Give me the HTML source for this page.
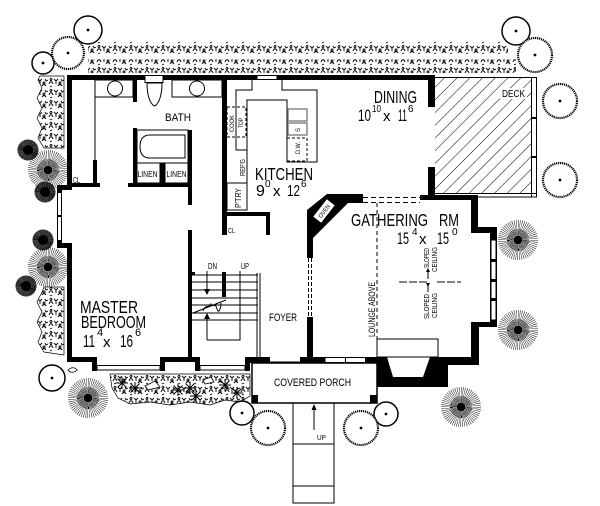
<!DOCTYPE html>
<html><head><meta charset="utf-8"><style>
html,body{margin:0;padding:0;background:#fff;}
svg{display:block;}
text{font-family:"Liberation Sans",sans-serif;fill:#000;}
</style></head><body>
<svg width="600" height="506" viewBox="0 0 600 506" xmlns="http://www.w3.org/2000/svg">
<defs>
<pattern id="hatch" width="9" height="9" patternUnits="userSpaceOnUse" patternTransform="rotate(45)"><line x1="0" y1="0" x2="0" y2="9" stroke="#000" stroke-width="1"/></pattern>
<pattern id="shrub" width="16" height="11" patternUnits="userSpaceOnUse">
<g fill="none" stroke="#000" stroke-width="0.9">
<path d="M1 7c1-3 3-3 4 0M6 2l2 2 2-2M8 4v3M10 9c1-2 3-2 4 0M13 2l1 2 2-1M2 10l2-1"/>
<circle cx="3" cy="2.5" r="1"/><circle cx="12" cy="6" r="1"/>
</g>
</pattern>
<g id="burst"><circle r="11.5" fill="none" stroke="#000" stroke-width="17" pathLength="112" stroke-dasharray="0.5 1.5"/><circle r="8" fill="none" stroke="#000" stroke-width="6" pathLength="112" stroke-dasharray="0.9 1.1"/><circle r="4.5" fill="#000"/></g>
<g id="dark"><circle r="6" fill="none" stroke="#000" stroke-width="9" pathLength="120" stroke-dasharray="0.8 0.2"/><circle r="5" fill="#000"/></g>
<path id="star" d="M-6 0H6M0-6V6M-4.5-4.5L4.5 4.5M-4.5 4.5L4.5-4.5" stroke="#000" stroke-width="1" fill="none"/>
<clipPath id="deckclip"><rect x="435" y="77" width="96" height="116"/></clipPath>
</defs>

<!-- hedges -->
<rect x="88" y="42" width="420" height="12" fill="url(#shrub)"/>
<rect x="88" y="59" width="428" height="14" fill="url(#shrub)"/>
<path d="M40 76L64 76L64 148L44 148L38 138L42 128L37 118L42 108L37 98L42 88L38 80Z" fill="url(#shrub)" stroke="#000" stroke-width="0.7"/>
<path d="M44 287L64 287L64 355L44 352L38 342L42 332L37 322L42 312L37 302L42 292Z" fill="url(#shrub)" stroke="#000" stroke-width="0.7"/>
<path d="M110 374L250 374L250 396L240 402L225 400L210 405L190 402L170 405L150 402L130 404L118 398L112 388Z" fill="url(#shrub)" stroke="#000" stroke-width="0.7"/>
<g fill="#fff">
<use href="#star" x="122" y="383"/><use href="#star" x="135" y="388"/><use href="#star" x="178" y="390"/><use href="#star" x="190" y="388"/><use href="#star" x="196" y="396"/><use href="#star" x="225" y="385"/><use href="#star" x="237" y="393"/>
</g>
<path d="M145 386l10-5 5 6-12 3zM203 380l8-3 3 5-9 2zM68 370c3-3 7-3 9 0c-3 3-7 3-9 0z" fill="#fff" stroke="#000" stroke-width="0.8"/>

<!-- trees -->
<g fill="none" stroke="#000" stroke-width="1.5">
<circle cx="88" cy="30" r="14"/><circle cx="43" cy="63" r="11"/><circle cx="516" cy="31" r="14"/>
<circle cx="52" cy="378" r="13"/><circle cx="242" cy="413" r="12"/><circle cx="386" cy="414" r="12"/>
</g>
<g fill="#fff" stroke="#000" stroke-width="2.2" stroke-dasharray="1.2 0.8">
<circle cx="68" cy="53" r="16"/><circle cx="535" cy="55" r="17"/><circle cx="560" cy="101" r="17"/>
<circle cx="560" cy="180" r="17"/><circle cx="268" cy="428" r="17"/><circle cx="361" cy="428" r="17"/>
</g>
<g fill="#000">
<circle cx="88" cy="30" r="1.4"/><circle cx="43" cy="63" r="1.4"/><circle cx="516" cy="31" r="1.4"/>
<circle cx="52" cy="378" r="1.4"/><circle cx="242" cy="413" r="1.4"/><circle cx="386" cy="414" r="1.4"/>
<circle cx="68" cy="53" r="1.4"/><circle cx="535" cy="55" r="1.4"/><circle cx="560" cy="101" r="1.4"/>
<circle cx="560" cy="180" r="1.4"/><circle cx="268" cy="428" r="1.4"/><circle cx="361" cy="428" r="1.4"/>
</g>
<use href="#burst" x="48" y="170"/><use href="#burst" x="48" y="267"/><use href="#burst" x="88" y="398"/>
<use href="#burst" x="461" y="407"/><use href="#burst" x="518" y="240"/><use href="#burst" x="518" y="330"/>
<use href="#dark" x="28" y="150"/><use href="#dark" x="45" y="192"/><use href="#dark" x="43" y="240"/><use href="#dark" x="26" y="286"/>

<!-- deck -->
<rect x="435" y="77" width="96" height="116" fill="url(#hatch)" clip-path="url(#deckclip)"/>
<g stroke="#000" stroke-width="1" fill="none">
<line x1="435" y1="77.5" x2="537" y2="77.5"/>
<line x1="531.5" y1="77" x2="531.5" y2="197"/><line x1="536.5" y1="77" x2="536.5" y2="197"/>
<line x1="435" y1="193.5" x2="537" y2="193.5"/><line x1="435" y1="197" x2="537" y2="197"/>
</g>
<rect x="531" y="117" width="6" height="2" fill="#000"/><rect x="531" y="156" width="6" height="2" fill="#000"/>
<rect x="500" y="88" width="27" height="11" fill="#fff"/>

<!-- walls -->
<g fill="#000">
<rect x="67" y="75" width="368" height="5"/>
<rect x="67" y="75" width="5" height="113"/>
<rect x="57" y="185" width="15" height="5"/>
<rect x="57" y="185" width="5" height="8"/><rect x="57" y="240" width="5" height="8"/>
<rect x="57" y="243" width="15" height="5"/>
<rect x="67" y="243" width="5" height="119"/>
<rect x="67" y="357" width="30" height="5"/><rect x="92" y="357" width="5" height="14"/>
<rect x="160" y="357" width="5" height="14"/><rect x="160" y="357" width="40" height="5"/>
<rect x="195" y="357" width="5" height="14"/><rect x="245" y="357" width="5" height="14"/>
<rect x="245" y="357" width="25" height="6"/>
<rect x="300" y="357" width="25" height="6"/><rect x="365" y="357" width="12" height="6"/>
<path d="M377 357H479V365H448V387H377Z"/>
<rect x="471" y="322" width="8" height="43"/><rect x="471" y="322" width="26" height="5"/>
<rect x="490" y="227" width="7" height="100"/>
<rect x="471" y="195" width="7" height="37"/><rect x="471" y="227" width="26" height="6"/>
<rect x="420" y="195" width="58" height="5"/>
<path d="M307 210L327 194H363V203H348L313 238V258H307Z"/>
<rect x="307" y="317" width="6" height="45"/>
<rect x="428" y="75" width="7" height="32"/><rect x="428" y="167" width="7" height="33"/>
<rect x="222" y="75" width="5" height="160"/>
<rect x="222" y="212" width="48" height="4"/><rect x="266" y="212" width="4" height="23"/>
<rect x="133" y="80" width="4" height="22"/>
<rect x="133" y="128" width="4" height="59"/><rect x="188" y="130" width="4" height="57"/>
<rect x="160" y="163" width="5" height="22"/>
<rect x="128" y="183" width="64" height="4"/>
<rect x="188" y="183" width="4" height="22"/><rect x="188" y="230" width="4" height="130"/>
<rect x="93" y="160" width="4" height="27"/><rect x="71" y="183" width="29" height="4"/>
<rect x="222" y="272" width="4" height="25"/><rect x="192" y="272" width="3" height="3"/>
</g>
<!-- fireplace cutout -->
<path d="M387 357H430L423 377H393Z" fill="#fff"/>
<!-- windows -->
<g fill="#fff" stroke="#000" stroke-width="1">
<rect x="57.5" y="192.5" width="4" height="48"/>
<rect x="97" y="365.5" width="63" height="4.5"/>
<rect x="200" y="365.5" width="45" height="4.5"/>
<rect x="325" y="357.5" width="20.5" height="5"/><rect x="345.5" y="357.5" width="20" height="5"/>
<rect x="491" y="240" width="5" height="80"/>
<rect x="257" y="75.5" width="20" height="4"/>
</g>
<g fill="#000"><rect x="490" y="259" width="7" height="3"/><rect x="490" y="279" width="7" height="3"/><rect x="490" y="298" width="7" height="3"/><rect x="57" y="215" width="5" height="2"/></g>

<g stroke="#000" stroke-width="1" fill="none">
<!-- gathering dashed openings -->
<line x1="363" y1="197.5" x2="420" y2="197.5" stroke-dasharray="5 3"/>
<line x1="363" y1="202.5" x2="420" y2="202.5" stroke-dasharray="5 3"/>
<line x1="308.5" y1="258" x2="308.5" y2="317" stroke-dasharray="4 2"/>
<line x1="311.5" y1="258" x2="311.5" y2="317" stroke-dasharray="4 2"/>
<line x1="377" y1="203" x2="377" y2="339" stroke-dasharray="4 3"/>
<rect x="377" y="339" width="61" height="18"/>
<line x1="399" y1="282" x2="427" y2="282" stroke-dasharray="8 2"/>
<line x1="437" y1="282" x2="461" y2="282" stroke-dasharray="8 2"/>
<line x1="428" y1="270" x2="428" y2="279"/><line x1="428" y1="285" x2="428" y2="292"/>
<!-- door line -->
<line x1="270" y1="362" x2="300" y2="362"/>
<!-- bath -->
<line x1="95" y1="80" x2="95" y2="160"/>
<rect x="95" y="80" width="38" height="17"/>
<circle cx="115" cy="88.5" r="7.5"/>
<rect x="172" y="80" width="50" height="17"/>
<circle cx="197" cy="88.5" r="7.5"/>
<rect x="137" y="130" width="51" height="33"/>
<path d="M150 135H185V158H150Q140 158 140 146.5Q140 135 150 135Z"/>
<rect x="137" y="163" width="23" height="20"/><rect x="165" y="163" width="23" height="20"/>
<!-- kitchen -->
<path d="M236 150V90H252V80"/>
<path d="M282 80V90H317V162H287V100H247V150"/>
<rect x="227" y="107" width="19" height="30" stroke-dasharray="3 2"/>
<path d="M236 150H247V183H236"/><line x1="247" y1="150" x2="247" y2="183" stroke-dasharray="3 2"/>
<rect x="227" y="183" width="20" height="27"/>
<rect x="287" y="138" width="20" height="23" stroke-dasharray="3 2"/>
<!-- stairs -->
<path d="M192 275H258M192 282H258M192 290H258M192 298H258M192 305H258M192 313H258M192 320H258"/>
<line x1="257" y1="273" x2="257" y2="357"/><line x1="260" y1="273" x2="260" y2="357"/>
<line x1="207" y1="271" x2="207" y2="290"/>
<path d="M207 340V318M207 340H240V271"/>
<!-- porch and steps -->
<rect x="252" y="363" width="125" height="40" stroke-width="1.5"/>
<rect x="293" y="403" width="41" height="100"/>
<line x1="293" y1="444" x2="334" y2="444"/><line x1="293" y1="486" x2="334" y2="486"/>
<line x1="314" y1="430" x2="314" y2="409"/>
</g>
<!-- stair break -->
<path d="M193 313L226 300" stroke="#000" stroke-width="1" fill="#fff"/>
<path d="M203 311c3-8 6-2 8-7c2 4 4-2 6 5c2 6 4-2 4-6" stroke="#000" stroke-width="1" fill="none"/>
<path d="M204 289L207 295L210 289ZM204 319L207 313L210 319ZM311.5 410L314 404L316.5 410ZM426 272L428 268L430 272ZM426 283L428 287L430 283Z" fill="#000"/>
<!-- sink -->
<g fill="none" stroke="#777" stroke-width="1.3"><rect x="288" y="109" width="19" height="12"/><rect x="288" y="123" width="19" height="12"/></g>
<!-- toilet -->
<rect x="145" y="75.5" width="18" height="7" fill="#fff" stroke="#000" stroke-width="1"/>
<path d="M147 83C147 95 150 104 154.5 106C159 104 162 95 162 83Z" fill="#fff" stroke="#000" stroke-width="1"/>
<path d="M252 395h6v8h-6zM370 395h7v8h-7z" fill="#000"/>
<!-- oven -->
<g transform="translate(324,211) rotate(-52)"><rect x="-11" y="-5" width="22" height="10" fill="#fff"/><text x="0" y="2.3" font-size="6" text-anchor="middle" textLength="15" lengthAdjust="spacingAndGlyphs">OVEN</text></g>

<!-- labels -->
<g>
<text x="80" y="313" font-size="17.5" textLength="58" lengthAdjust="spacingAndGlyphs">MASTER</text>
<text x="81" y="328" font-size="17.5" textLength="65" lengthAdjust="spacingAndGlyphs">BEDROOM</text>
<text x="83" y="347" font-size="17.5" textLength="12" lengthAdjust="spacingAndGlyphs">11</text>
<text x="97" y="336" font-size="11">4</text>
<text x="103" y="347" font-size="15">x</text>
<text x="120" y="347" font-size="17.5" textLength="13" lengthAdjust="spacingAndGlyphs">16</text>
<text x="135" y="336" font-size="11">6</text>

<text x="255" y="180" font-size="17.5" textLength="58" lengthAdjust="spacingAndGlyphs">KITCHEN</text>
<text x="256" y="196" font-size="16">9</text>
<text x="265" y="187" font-size="10">0</text>
<text x="273" y="196" font-size="15">x</text>
<text x="287" y="196" font-size="16" textLength="13" lengthAdjust="spacingAndGlyphs">12</text>
<text x="301" y="187" font-size="10">6</text>

<text x="374" y="103" font-size="17.5" textLength="43" lengthAdjust="spacingAndGlyphs">DINING</text>
<text x="358" y="121" font-size="17" textLength="13" lengthAdjust="spacingAndGlyphs">10</text>
<text x="372" y="112" font-size="10" textLength="9" lengthAdjust="spacingAndGlyphs">10</text>
<text x="383" y="121" font-size="15">x</text>
<text x="398" y="121" font-size="17" textLength="9" lengthAdjust="spacingAndGlyphs">11</text>
<text x="408" y="112" font-size="10">6</text>

<text x="351" y="226" font-size="17.5" textLength="77" lengthAdjust="spacingAndGlyphs">GATHERING</text>
<text x="439" y="226" font-size="17.5" textLength="20" lengthAdjust="spacingAndGlyphs">RM</text>
<text x="397" y="244" font-size="17" textLength="12" lengthAdjust="spacingAndGlyphs">15</text>
<text x="412" y="235" font-size="10">4</text>
<text x="419" y="244" font-size="15">x</text>
<text x="437" y="244" font-size="17" textLength="12" lengthAdjust="spacingAndGlyphs">15</text>
<text x="452" y="235" font-size="10">0</text>

<text x="165" y="121" font-size="11" textLength="26" lengthAdjust="spacingAndGlyphs">BATH</text>
<text x="137.5" y="177" font-size="8" textLength="20" lengthAdjust="spacingAndGlyphs">LINEN</text>
<text x="166.5" y="177" font-size="8" textLength="20" lengthAdjust="spacingAndGlyphs">LINEN</text>
<text x="73" y="183" font-size="8" textLength="7" lengthAdjust="spacingAndGlyphs">CL</text>
<text x="228" y="233" font-size="7.5" textLength="7" lengthAdjust="spacingAndGlyphs">CL</text>
<text x="502" y="97" font-size="10.5" textLength="23" lengthAdjust="spacingAndGlyphs">DECK</text>
<text x="269" y="321" font-size="11" textLength="28" lengthAdjust="spacingAndGlyphs">FOYER</text>
<text x="274" y="386" font-size="11" textLength="77" lengthAdjust="spacingAndGlyphs">COVERED  PORCH</text>
<text x="208" y="269" font-size="8" textLength="9" lengthAdjust="spacingAndGlyphs">DN</text>
<text x="241" y="269" font-size="8" textLength="8" lengthAdjust="spacingAndGlyphs">UP</text>
<text x="317" y="440" font-size="7.5" textLength="9" lengthAdjust="spacingAndGlyphs">UP</text>
<text transform="translate(375,337) rotate(-90)" font-size="9" textLength="55" lengthAdjust="spacingAndGlyphs">LOUNGE  ABOVE</text>
<text transform="translate(429,268) rotate(-90)" font-size="7" textLength="20" lengthAdjust="spacingAndGlyphs">SLOPED</text>
<text transform="translate(437,272) rotate(-90)" font-size="7" textLength="25" lengthAdjust="spacingAndGlyphs">CEILING</text>
<text transform="translate(429,319) rotate(-90)" font-size="7" textLength="25" lengthAdjust="spacingAndGlyphs">SLOPED</text>
<text transform="translate(437,318) rotate(-90)" font-size="7" textLength="25" lengthAdjust="spacingAndGlyphs">CEILING</text>
<text transform="translate(234,132) rotate(-90)" font-size="6.5" textLength="17" lengthAdjust="spacingAndGlyphs">COOK</text>
<text transform="translate(243,128) rotate(-90)" font-size="6.5" textLength="10" lengthAdjust="spacingAndGlyphs">TOP</text>
<text transform="translate(245,176) rotate(-90)" font-size="7" textLength="17" lengthAdjust="spacingAndGlyphs">REF'G</text>
<text transform="translate(241,208) rotate(-90)" font-size="8" textLength="20" lengthAdjust="spacingAndGlyphs">P'TRY</text>
<text transform="translate(300,154) rotate(-90)" font-size="6" textLength="12" lengthAdjust="spacingAndGlyphs">D.W.</text>
<text transform="translate(300,132) rotate(-90)" font-size="6">S</text>
</g>
</svg>
</body></html>
